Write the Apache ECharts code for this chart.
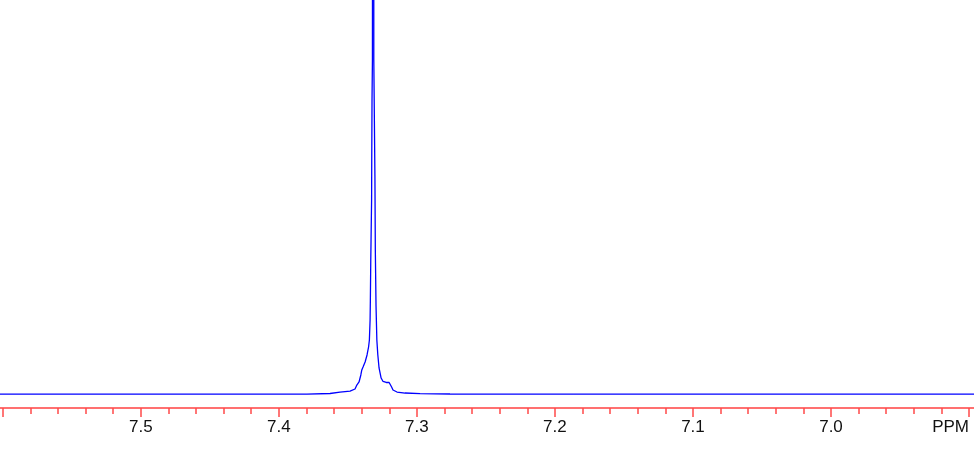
<!DOCTYPE html>
<html>
<head>
<meta charset="utf-8">
<script src="https://cdn.jsdelivr.net/npm/echarts@6/dist/echarts.min.js"></script>
<style>html,body{margin:0;padding:0;background:#fff}#c{width:974px;height:461px}</style>
</head>
<body>
<div id="c"></div>
<script>
// chemical shift (ppm), left to right
var ppm = [7.602, 7.55, 7.4785, 7.4775, 7.4765, 7.4405, 7.4397, 7.4389, 7.4318, 7.431, 7.4302,
  7.3813, 7.3805, 7.3797, 7.3629, 7.3557, 7.3484, 7.3448, 7.3435, 7.3428, 7.3419, 7.3406, 7.3399,
  7.3390, 7.3375, 7.3361, 7.3350, 7.3344, 7.3339, 7.3337, 7.3334, 7.3332, 7.3328, 7.3327, 7.3325,
  7.3322, 7.3316, 7.3314, 7.3312, 7.3307, 7.3304, 7.3301, 7.3296, 7.3290, 7.3283, 7.3274, 7.3259,
  7.3245, 7.3222, 7.3201, 7.3191, 7.3183, 7.3173, 7.3144, 7.3086, 7.2977, 7.2760, 7.1862, 7.1854,
  7.1846, 7.0993, 7.0985, 7.0977, 6.8964];
// intensity
var intensity = [0, 0, 0, 1.2, 0, 0, 0.8, 0, 0, 2, 0,
  0, 1, 0, 0.7, 2.2, 3.2, 5.3, 9.3, 7.3, 12.4, 19.5, 24.6,
  27.6, 32.7, 39.8, 47.9, 55, 75, 95, 136, 156, 197, 237, 298,
  339, 339, 2000, 339, 339, 222, 146, 90, 55, 40, 26.6, 16.4,
  12.9, 11.9, 11.9, 10.9, 7.3, 4.3, 2.2, 1.2, 0.5, 0.2, 0, 0.6,
  0, 0, 2, 0, 0];
var majorTicks = [7.6, 7.5, 7.4, 7.3, 7.2, 7.1, 7.0, 6.9];
var minorTicks = [7.58, 7.56, 7.54, 7.52, 7.48, 7.46, 7.44, 7.42, 7.38, 7.36, 7.34, 7.32,
  7.28, 7.26, 7.24, 7.22, 7.18, 7.16, 7.14, 7.12, 7.08, 7.06, 7.04, 7.02,
  6.98, 6.96, 6.94, 6.92];
var tickLabels = [7.5, 7.4, 7.3, 7.2, 7.1, 7.0];
var unitLabel = 'PPM';
var unitPos = 6.9;

var xMin = 6.8964, xMax = 7.602;
var data = ppm.map(function (p, i) { return [p, intensity[i]]; });
var red = '#ff7070';
var font = 'Liberation Sans, Arial, sans-serif';
function baseAxis(extra) {
  var a = {
    type: 'value', min: xMin, max: xMax, inverse: true, position: 'bottom',
    axisLine: { show: false, onZero: false },
    axisTick: { show: false }, axisLabel: { show: false }, splitLine: { show: false }
  };
  for (var k in extra) a[k] = extra[k];
  return a;
}
var chart = echarts.init(document.getElementById('c'));
chart.setOption({
  animation: false,
  grid: { left: 0, right: 0, top: 0, bottom: 53 },
  xAxis: [
    baseAxis({
      axisLine: { show: true, onZero: false, lineStyle: { color: red, width: 2 } },
      axisTick: { show: true, customValues: majorTicks, length: 9, lineStyle: { color: '#ff4a4a', width: 1.5 } },
      axisLabel: { show: true, customValues: tickLabels, margin: 11, fontFamily: font, fontSize: 17, color: '#111',
        formatter: function (v) { return v.toFixed(1); } }
    }),
    baseAxis({
      axisTick: { show: true, customValues: minorTicks, length: 6, lineStyle: { color: '#ff4a4a', width: 1.5 } }
    }),
    baseAxis({
      axisLabel: { show: true, customValues: [unitPos], align: 'right', margin: 11, fontFamily: font, fontSize: 17, color: '#111',
        formatter: function () { return unitLabel; } }
    })
  ],
  yAxis: { type: 'value', min: -14, max: 400, show: false, splitLine: { show: false } },
  series: [{
    type: 'line', xAxisIndex: 0, data: data, showSymbol: false, symbol: 'none', clip: true,
    lineStyle: { color: '#0000ff', width: 1.3 }
  }]
});
</script>
</body>
</html>
